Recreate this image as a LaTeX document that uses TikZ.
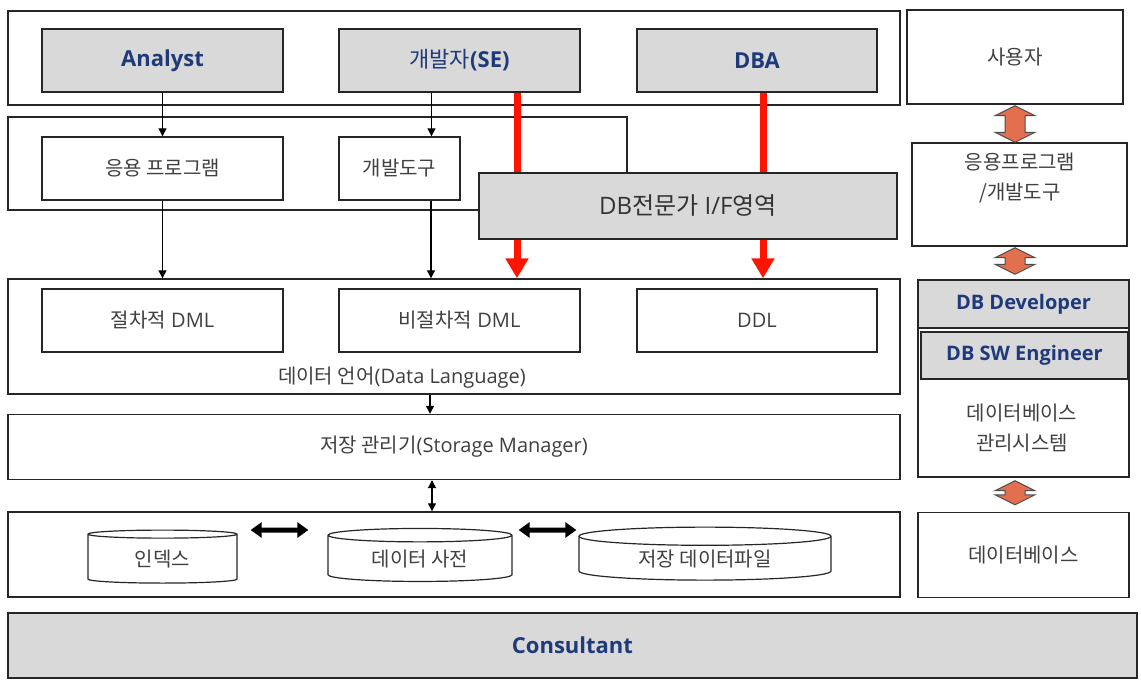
\documentclass[tikz,border=0pt]{standalone}
\usepackage{fontspec}
\setmainfont{Open Sans}
\newfontfamily\krfont{Noto Sans CJK KR}
\usetikzlibrary{arrows.meta,calc,shapes.geometric}

\definecolor{rolegray}{RGB}{217,217,217}
\definecolor{rolenavy}{RGB}{31,58,122}
\definecolor{linkred}{RGB}{255,20,0}
\definecolor{blockorange}{RGB}{226,112,78}
\newcommand\ko[1]{{\krfont #1}}

\tikzset{
  frame/.style={draw=black!85, line width=1.4pt, fill=white},
  rolebox/.style={frame, fill=rolegray, text=rolenavy, font=\fontsize{22}{26}\selectfont\bfseries},
  itembox/.style={frame, text=black!75, font=\fontsize{20}{24}\selectfont},
  plaintext/.style={text=black!75, font=\fontsize{20}{30}\selectfont, align=center},
  dbcyl/.style={cylinder, shape border rotate=90, aspect=0.13, draw=black!85, line width=1.2pt, fill=white, text=black!75, font=\fontsize{20}{24}\selectfont, minimum height=53pt},
  flowarrow/.style={draw=black, line width=1.2pt, -{Triangle[length=8pt,width=8pt]}},
  flowboth/.style={draw=black, line width=1.2pt, {Triangle[length=8pt,width=8pt]}-{Triangle[length=8pt,width=8pt]}},
  redarrow/.style={draw=linkred, line width=7pt, -{Triangle[length=20pt,width=22pt]}},
  fatarrow/.style={draw=black, line width=5pt, {Triangle[length=11pt,width=15pt]}-{Triangle[length=11pt,width=15pt]}},
  blockarrow/.style={draw=black!70, line width=1pt, fill=blockorange}
}

\begin{document}
\begin{tikzpicture}[x=1pt,y=-1pt]
\useasboundingbox[fill=white] (0,0) rectangle (1141,686);

% layers
\node[frame, minimum width=892pt, minimum height=94pt] (toplayer) at (454,58) {};
\node[frame, minimum width=619pt, minimum height=93pt] (uilayer) at (317.5,163.5) {};
\node[frame, minimum width=892pt, minimum height=115pt] (lang) at (454,336.5) {};
\node[frame, minimum width=892pt, minimum height=65pt, itembox] (stor) at (454,447) {\ko{저장 관리기}(Storage Manager)};
\node[frame, minimum width=892pt, minimum height=85pt] (store) at (454,554.5) {};
\node[rolebox, minimum width=1129pt, minimum height=65pt] (consult) at (572.5,645.5) {Consultant};

% roles
\node[rolebox, minimum width=241pt, minimum height=63pt] (analyst) at (162.5,60.5) {Analyst};
\node[rolebox, minimum width=241pt, minimum height=63pt] (se) at (459.5,60.5) {\ko{\mdseries 개발자}(SE)};
\node[rolebox, minimum width=240pt, minimum height=63pt] (dba) at (757,60.5) {DBA};

% programs and languages
\node[itembox, minimum width=241pt, minimum height=63pt] (app) at (162.5,168.5) {\ko{응용 프로그램}};
\node[itembox, minimum width=121pt, minimum height=63pt] (tool) at (399.5,168.5) {\ko{개발도구}};
\node[itembox, minimum width=241pt, minimum height=63pt] (pdml) at (162.5,320.5) {\ko{절차적} DML};
\node[itembox, minimum width=241pt, minimum height=63pt] (npdml) at (459.5,320.5) {\ko{비절차적} DML};
\node[itembox, minimum width=240pt, minimum height=63pt] (ddl) at (757,320.5) {DDL};
\node[plaintext] (langlabel) at (402,378) {\ko{데이터 언어}(Data Language)};

\draw[flowarrow] (analyst) -- (app);
\draw[flowarrow] (app) -- (app |- lang.north);
\draw[flowarrow] ([xshift=-28]se.south) -- ([xshift=-28]se.south |- tool.north);
\draw[flowarrow] ([xshift=31.5]tool.south) -- ([xshift=31.5]tool.south |- lang.north);
\draw[redarrow] ([xshift=57.5]se.south) -- ([xshift=57.5]se.south |- lang.north);
\draw[redarrow] ([xshift=6]dba.south) -- ([xshift=6]dba.south |- lang.north);
\draw[flowarrow] ([xshift=-24]lang.south) -- ([xshift=-24]lang.south |- stor.north);
\draw[flowboth] ([xshift=-22]stor.south) -- ([xshift=-22]stor.south |- store.north);

\node[frame, fill=rolegray, text=black!80, font=\fontsize{24}{28}\selectfont, minimum width=418pt, minimum height=66pt] (ifbox) at (688,206) {DB\ko{전문가} I/F\ko{영역}};

% storage
\node[dbcyl, minimum width=149pt] (idx) at (162.5,559.5) {\ko{인덱스}};
\node[dbcyl, minimum width=184pt] (dict) at (420,559.5) {\ko{데이터 사전}};
\node[dbcyl, minimum width=252pt] (file) at (705,559.5) {\ko{저장 데이터파일}};
\draw[fatarrow] ([shift={(13,-29.5)}]idx.east) -- ([shift={(-19,-29.5)}]dict.west);
\draw[fatarrow] ([shift={(6,-29.5)}]dict.east) -- ([shift={(-2,-29.5)}]file.west);

% right column
\node[itembox, minimum width=216pt, minimum height=94pt] (user) at (1015,57) {\ko{사용자}};
\node[itembox, minimum width=215pt, minimum height=103pt] (apptool) at (1019.5,194.5) {};
\node[plaintext] (apptext) at (1020,178) {\ko{응용프로그램}\\\ko{/개발도구}};
\node[itembox, minimum width=211pt, minimum height=197pt] (dbms) at (1023.5,378.5) {};
\node[rolebox, font=\fontsize{20}{24}\selectfont\bfseries, minimum width=211pt, minimum height=48pt] (dbdev) at (1023.5,304) {DB Developer};
\node[rolebox, font=\fontsize{20}{24}\selectfont\bfseries, minimum width=207pt, minimum height=47pt] (dbsw) at (1024.5,355.5) {DB SW Engineer};
\node[plaintext] (dbmstext) at (1022,428) {\ko{데이터베이스}\\\ko{관리시스템}};
\node[itembox, minimum width=211pt, minimum height=85pt] (db) at (1023.5,555) {\ko{데이터베이스}};

\coordinate (bx) at (1015,0);
\foreach \up/\down/\ga/\gb in {user/apptool/1/0,apptool/dbms/1/5,dbms/db/3/7}{
  \coordinate (ta) at ($(\up.south -| bx)+(0,\ga)$);
  \coordinate (tb) at ($(\down.north -| bx)+(0,-\gb)$);
  \draw[blockarrow] (ta) -- ++(20,10) -- ++(-10,0) -- ($(tb)+(10,-10)$) -- ++(10,0) -- (tb)
    -- ++(-20,-10) -- ++(10,0) -- ($(ta)+(-10,10)$) -- ++(-10,0) -- cycle;
}

\end{tikzpicture}
\end{document}
